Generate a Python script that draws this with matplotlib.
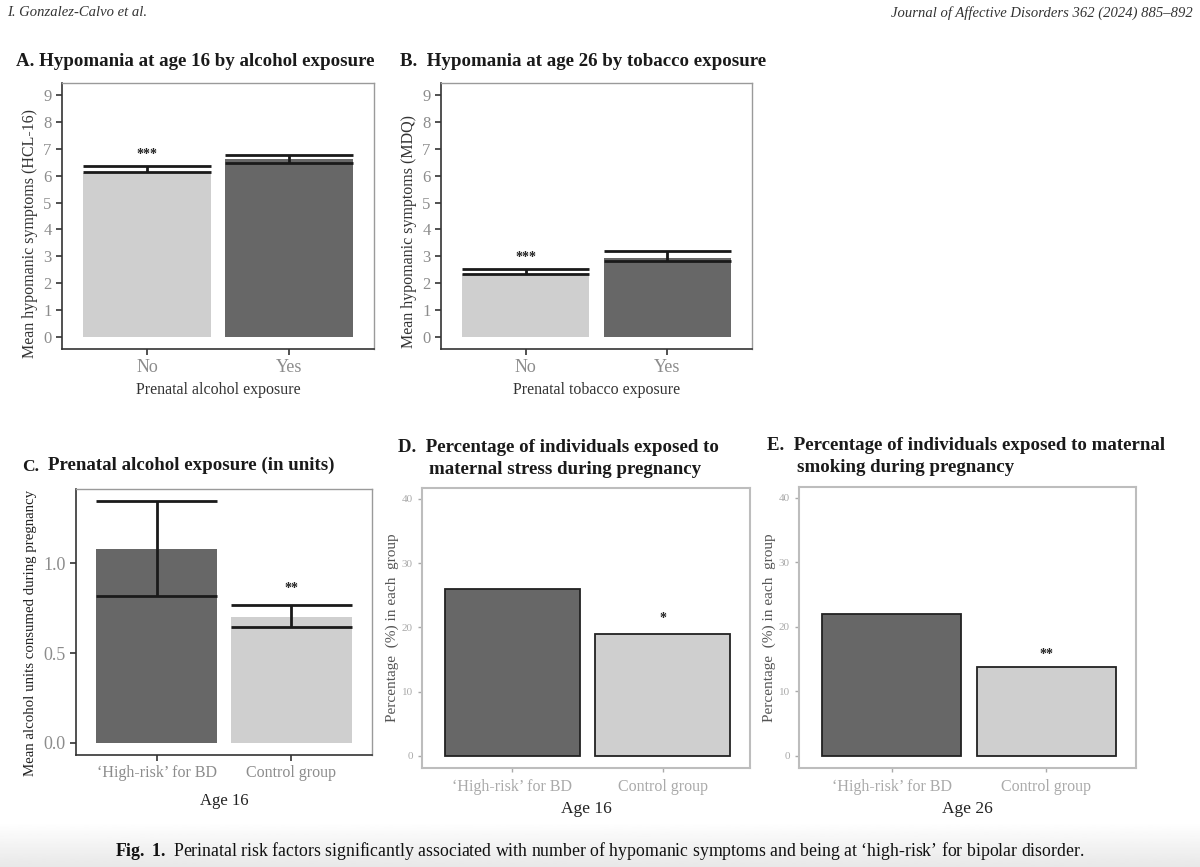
import numpy as np
import matplotlib
matplotlib.use('Agg')
import matplotlib.pyplot as plt

plt.rcParams['font.family'] = ['Liberation Serif', 'DejaVu Serif']
plt.rcParams['mathtext.fontset'] = 'custom'
plt.rcParams['mathtext.rm'] = 'Liberation Serif'
plt.rcParams['mathtext.bf'] = 'Liberation Serif:bold'

# data
ab_groups = ['No', 'Yes']
a_means = [6.10, 6.61]
a_low = [6.13, 6.46]
a_high = [6.37, 6.77]
b_means = [2.33, 2.94]
b_low = [2.35, 2.81]
b_high = [2.51, 3.18]

risk_groups = ['\u2018High-risk\u2019 for BD', 'Control group']
c_means = [1.08, 0.70]
c_low = [0.82, 0.643]
c_high = [1.346, 0.765]
d_pct = [26.0, 19.0]
e_pct = [22.0, 13.7]

light = '#cfcfcf'
dark = '#676767'

W, H = 1200, 867
fig = plt.figure(figsize=(12, 8.67), dpi=100)

def px_axes(x0, y0, x1, y1):
    return fig.add_axes([x0 / W, 1 - y1 / H, (x1 - x0) / W, (y1 - y0) / H])

def fig_text(x, y, s, **kw):
    fig.text(x / W, 1 - y / H, s, **kw)

def style_ggplot(ax):
    for side in ['top', 'right']:
        ax.spines[side].set_color('#9a9a9a')
        ax.spines[side].set_linewidth(1.0)
    for side in ['left', 'bottom']:
        ax.spines[side].set_color('#333333')
        ax.spines[side].set_linewidth(1.2)
    ax.tick_params(axis='both', colors='#333333', length=4, width=1.2)

def draw_err(ax, xs, lows, highs, width):
    for x, lo, hi in zip(xs, lows, highs):
        ax.hlines([lo, hi], x - width / 2, x + width / 2, color='#1a1a1a', lw=2)
        ax.vlines(x, lo, hi, color='#1a1a1a', lw=2)

def mean_panel(ax, groups, colors, means, lows, highs, ylim, yticks):
    xs = np.arange(1, len(groups) + 1)
    ax.bar(xs, means, width=0.9, color=colors)
    draw_err(ax, xs, lows, highs, 0.9)
    ax.set_xlim(0.4, 2.6)
    ax.set_ylim(*ylim)
    ax.set_xticks(xs)
    ax.set_yticks(yticks)
    style_ggplot(ax)
    return xs

# panel A
axA = px_axes(62, 83, 374, 349)
mean_panel(axA, ab_groups, [light, dark], a_means, a_low, a_high, (-0.45, 9.45), range(10))
axA.set_xticklabels(ab_groups, fontsize=13, color='#8c8c8c')
axA.set_yticklabels([str(t) for t in range(10)], fontsize=12, color='#8c8c8c')
axA.set_xlabel('Prenatal alcohol exposure', fontsize=11.5, color='#333333', labelpad=4)
axA.set_ylabel('Mean hypomanic symptoms (HCL-16)', fontsize=11.5, color='#333333')
axA.yaxis.set_label_coords(-0.076, 0.435)
axA.text(1, 6.8, '***', ha='center', va='center', fontsize=10, fontweight='bold', color='#222222')

# panel B
axB = px_axes(441, 83, 752, 349)
mean_panel(axB, ab_groups, [light, dark], b_means, b_low, b_high, (-0.45, 9.45), range(10))
axB.set_xticklabels(ab_groups, fontsize=13, color='#8c8c8c')
axB.set_yticklabels([str(t) for t in range(10)], fontsize=12, color='#8c8c8c')
axB.set_xlabel('Prenatal tobacco exposure', fontsize=11.5, color='#333333', labelpad=4)
axB.set_ylabel('Mean hypomanic symptoms (MDQ)', fontsize=11.5, color='#333333')
axB.yaxis.set_label_coords(-0.078, 0.44)
axB.text(1, 2.94, '***', ha='center', va='center', fontsize=10, fontweight='bold', color='#222222')

# panel C
axC = px_axes(76, 489, 372, 755)
c_ticks = [0.0, 0.5, 1.0]
mean_panel(axC, risk_groups, [dark, light], c_means, c_low, c_high, (-0.067, 1.413), c_ticks)
axC.set_xticklabels(risk_groups, fontsize=11.5, color='#8c8c8c')
axC.set_yticklabels(['{:.1f}'.format(t) for t in c_ticks], fontsize=13, color='#8c8c8c')
axC.set_xlabel('Age 16', fontsize=12, color='#222222', labelpad=8)
axC.set_ylabel('Mean alcohol units consumed during pregnancy', fontsize=10.7, color='#222222')
axC.yaxis.set_label_coords(-0.132, 0.46)
axC.text(2, 0.86, '**', ha='center', va='center', fontsize=10, fontweight='bold', color='#222222')

# panels D and E
def pct_panel(box, values, star, star_y, xlabel):
    ax = px_axes(*box)
    xs = np.arange(1, len(risk_groups) + 1)
    ax.bar(xs, values, width=0.9, color=[dark, light], edgecolor='#222222', linewidth=1.3)
    ax.set_xlim(0.4, 2.58)
    ax.set_ylim(-1.9, 41.7)
    ax.set_xticks(xs)
    ax.set_xticklabels(risk_groups, fontsize=11.5, color='#666666')
    ax.set_yticks([0, 10, 20, 30, 40])
    ax.set_yticklabels(['0', '10', '20', '30', '40'], fontsize=8, color='#a0a0a0')
    for s in ax.spines.values():
        s.set_color('#bdbdbd')
        s.set_linewidth(1.5)
    ax.tick_params(axis='both', colors='#aaaaaa', length=3, width=1)
    ax.tick_params(axis='x', pad=5)
    ax.set_ylabel('Percentage  (%) in each  group', fontsize=11, color='#555555', labelpad=2)
    ax.set_xlabel(xlabel, fontsize=12.5, color='#222222', labelpad=4)
    ax.text(2, star_y, star, ha='center', va='center', fontsize=10, fontweight='bold', color='#222222')
    return ax

pct_panel((422, 488, 750, 768), d_pct, '*', 21.4, 'Age 16')
pct_panel((799, 487, 1136, 768), e_pct, '**', 15.7, 'Age 26')

# panel titles
tkw = dict(fontsize=13.6, fontweight='bold', color='#1a1a1a', va='center', ha='left')
fig_text(16, 62, 'A. Hypomania at age 16 by alcohol exposure', **tkw)
fig_text(400, 62, 'B.  Hypomania at age 26 by tobacco exposure', **tkw)
fig_text(22, 467, 'C.', fontsize=12.5, fontweight='bold', color='#1a1a1a', va='center', ha='left')
fig_text(48, 465, 'Prenatal alcohol exposure (in units)', **tkw)
fig_text(398, 447, 'D.  Percentage of individuals exposed to', **tkw)
fig_text(429, 469, 'maternal stress during pregnancy', **tkw)
fig_text(767, 446, 'E.  Percentage of individuals exposed to maternal', **tkw)
fig_text(797, 467, 'smoking during pregnancy', **tkw)

# header
fig_text(7, 13, 'I. Gonzalez-Calvo et al.', fontsize=10.5, style='italic', color='#333333', va='center')
fig_text(1193, 13, 'Journal of Affective Disorders 362 (2024) 885\u2013892', fontsize=10.5,
         style='italic', color='#333333', va='center', ha='right')

# caption strip with light gradient
bg = fig.add_axes([0, 0, 1, 45 / H], zorder=-5)
grad = np.linspace(1.0, 0.91, 50).reshape(-1, 1)
bg.imshow(grad, cmap='gray', vmin=0, vmax=1, aspect='auto', extent=[0, 1, 0, 1], origin='upper')
bg.axis('off')
fig_text(600, 851, r'$\mathbf{Fig.}$ $\mathbf{1.}$ Perinatal risk factors significantly associated with number of '
         'hypomanic symptoms and being at \u2018high-risk\u2019 for bipolar disorder.',
         fontsize=12.8, va='center', ha='center', color='#111111')

fig.savefig('out.png', dpi=100)
